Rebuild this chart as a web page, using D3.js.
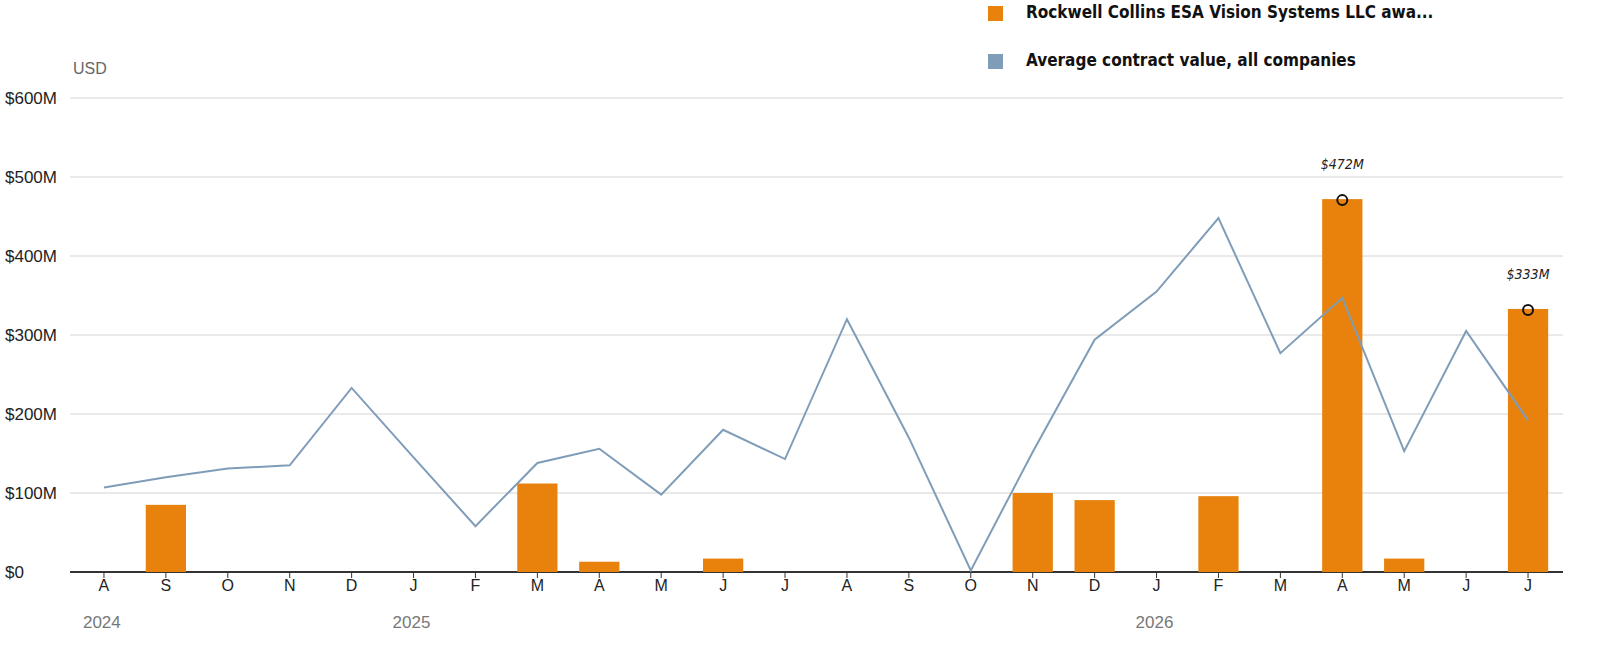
<!DOCTYPE html><html><head><meta charset="utf-8">
<script src="https://cdn.jsdelivr.net/npm/d3@7"></script>
<style>body{margin:0;background:#fff;font-family:"Liberation Sans",Arial,sans-serif}</style></head><body>
<svg id="c" width="1610" height="656"></svg>
<script>
const months=["A","S","O","N","D","J","F","M","A","M","J","J","A","S","O","N","D","J","F","M","A","M","J","J"];
const barValues=[0,85,0,0,0,0,0,112,13,0,17,0,0,0,0,100,91,0,96,0,472,17,0,333];
const lineValues=[107,120,131,135,233,145,58,138,156,98,180,143,320,170,2,152,294,355,448,277,347,153,305,192];
const yTicks=[0,100,200,300,400,500,600];
const years=[{label:"2024",i:0},{label:"2025",i:5},{label:"2026",i:17}];
const annotations=[{i:20,v:472,label:"$472M"},{i:23,v:333,label:"$333M"}];
const svg=d3.select("#c");
const x=d3.scaleBand().domain(d3.range(24)).range([73,1559]).paddingInner(0.35).paddingOuter(0.175);
const y=d3.scaleLinear().domain([0,600]).range([572,98]);
const cx=i=>x(i)+x.bandwidth()/2;
const g=svg.append("g");
yTicks.forEach(t=>{
 g.append("line").attr("x1",70).attr("x2",1563).attr("y1",y(t)).attr("y2",y(t)).attr("stroke",t?"#d4d4d4":"#333").attr("stroke-width",t?1:2);
 g.append("text").attr("x",5).attr("y",y(t)+6).attr("font-size",17).attr("fill","#222").text("$"+t+(t?"M":""));
});
g.append("text").attr("x",73).attr("y",74).attr("font-size",16).attr("fill","#666").text("USD");
g.selectAll(".b").data(barValues).join("rect").attr("x",(d,i)=>x(i)).attr("width",x.bandwidth())
 .attr("y",d=>y(d)).attr("height",d=>572-y(d)).attr("fill","#e8820c");
g.append("path").datum(lineValues).attr("fill","none").attr("stroke","#7f9db9").attr("stroke-width",2)
 .attr("d",d3.line().x((d,i)=>cx(i)).y(d=>y(d)));
months.forEach((m,i)=>{
 g.append("line").attr("x1",cx(i)).attr("x2",cx(i)).attr("y1",572).attr("y2",578).attr("stroke","#333");
 g.append("text").attr("x",cx(i)).attr("y",591).attr("text-anchor","middle").attr("font-size",16).attr("fill","#222").text(m);
});
years.forEach(yv=>g.append("text").attr("x",cx(yv.i)-21).attr("y",628).attr("font-size",17).attr("fill","#777").text(yv.label));
annotations.forEach(a=>{
 g.append("circle").attr("cx",cx(a.i)).attr("cy",y(a.v)+1).attr("r",5).attr("fill","none").attr("stroke","#111").attr("stroke-width",2);
 g.append("text").attr("x",cx(a.i)).attr("y",y(a.v)-30).attr("text-anchor","middle").attr("font-size",14).attr("font-style","italic")
  .attr("font-family","'DejaVu Sans Condensed',sans-serif").attr("fill","#222").text(a.label);
});
const leg=[{c:"#e8820c",t:"Rockwell Collins ESA Vision Systems LLC awa..."},{c:"#7f9db9",t:"Average contract value, all companies"}];
leg.forEach((l,i)=>{
 g.append("rect").attr("x",988).attr("y",6+i*48).attr("width",15).attr("height",15).attr("fill",l.c);
 g.append("text").attr("x",1026).attr("y",18+i*48).attr("font-size",17).attr("font-weight","bold")
  .attr("font-family","'DejaVu Sans Condensed',sans-serif").attr("fill","#111").text(l.t);
});
</script></body></html>
